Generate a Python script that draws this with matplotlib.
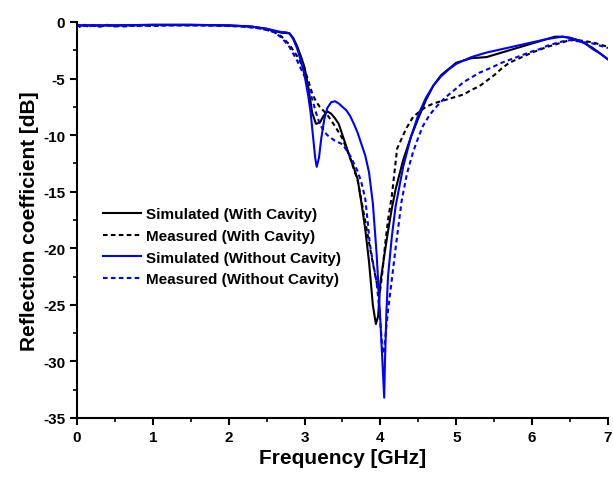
import matplotlib
matplotlib.use("Agg")
import matplotlib.pyplot as plt
from matplotlib.ticker import MultipleLocator

plt.rcParams['font.family'] = ['Liberation Sans', 'DejaVu Sans']
plt.rcParams['font.weight'] = 'bold'
plt.rcParams['axes.unicode_minus'] = False

# Simulated (With Cavity)
f_sim_cav = [0.0, 0.5, 1.0, 1.5, 2.0, 2.3, 2.5, 2.6, 2.7, 2.8, 2.85, 2.9, 2.95,
             3.0, 3.05, 3.1, 3.15, 3.2, 3.25, 3.3, 3.35, 3.4, 3.45, 3.5, 3.55,
             3.6, 3.65, 3.7, 3.75, 3.8, 3.85, 3.9, 3.94, 3.97, 4.0, 4.05, 4.1,
             4.15, 4.2, 4.3, 4.4, 4.5, 4.6, 4.7, 4.8, 5.0, 5.2, 5.4, 5.6, 5.8,
             6.0, 6.2, 6.3, 6.4, 6.5, 6.6, 6.7, 6.8, 6.9, 7.0]
s_sim_cav = [-0.3, -0.3, -0.25, -0.25, -0.3, -0.4, -0.6, -0.8, -0.95, -1.0, -1.4,
             -2.1, -3.0, -4.0, -5.8, -8.0, -9.0, -8.9, -8.3, -7.9, -8.1, -8.5,
             -9.0, -10.0, -11.0, -12.0, -12.9, -13.9, -16.0, -18.3, -21.2, -25.0,
             -26.7, -26.0, -23.0, -20.7, -18.5, -16.5, -14.8, -12.2, -10.2, -8.5,
             -6.9, -5.6, -4.7, -3.6, -3.2, -3.1, -2.7, -2.3, -1.9, -1.5, -1.3,
             -1.3, -1.4, -1.6, -1.9, -2.3, -2.8, -3.3]

# Measured (With Cavity)
f_meas_cav = [0.0, 0.05, 0.1, 0.15, 0.2, 0.3, 0.4, 0.6, 0.8, 1.0, 1.2, 1.5, 1.8,
              2.0, 2.2, 2.4, 2.5, 2.6, 2.7, 2.8, 2.9, 3.0, 3.05, 3.1, 3.15, 3.2,
              3.3, 3.4, 3.5, 3.6, 3.7, 3.75, 3.8, 3.85, 3.9, 3.95, 3.99, 4.02,
              4.06, 4.1, 4.15, 4.22, 4.3, 4.35, 4.43, 4.5, 4.6, 4.7, 4.8, 4.9,
              5.0, 5.1, 5.2, 5.3, 5.4, 5.5, 5.6, 5.7, 5.8, 6.0, 6.2, 6.4, 6.5,
              6.6, 6.7, 6.8, 6.9, 7.0]
s_meas_cav = [-0.2, -0.45, -0.3, -0.4, -0.3, -0.4, -0.3, -0.4, -0.3, -0.35, -0.3,
              -0.3, -0.3, -0.35, -0.4, -0.55, -0.7, -0.9, -1.3, -2.0, -3.0, -4.2,
              -5.2, -6.3, -7.0, -7.5, -8.2, -9.2, -10.3, -12.0, -14.0, -15.8,
              -17.6, -19.5, -21.3, -23.0, -24.0, -22.5, -19.8, -17.5, -15.4,
              -11.2, -10.0, -9.3, -8.4, -8.0, -7.5, -7.2, -7.0, -6.8, -6.6, -6.4,
              -6.0, -5.7, -5.2, -4.7, -4.1, -3.6, -3.3, -2.7, -2.2, -1.8, -1.6,
              -1.6, -1.7, -1.8, -2.0, -2.2]

# Simulated (Without Cavity)
f_sim_nocav = [0.0, 0.5, 1.0, 1.5, 2.0, 2.3, 2.5, 2.6, 2.7, 2.75, 2.8, 2.85, 2.9,
               2.95, 3.0, 3.05, 3.08, 3.11, 3.14, 3.16, 3.19, 3.22, 3.26, 3.3,
               3.35, 3.4, 3.45, 3.5, 3.55, 3.6, 3.65, 3.7, 3.75, 3.8, 3.85, 3.9,
               3.95, 4.0, 4.03, 4.05, 4.06, 4.08, 4.1, 4.15, 4.2, 4.3, 4.4, 4.5,
               4.6, 4.7, 4.8, 4.9, 5.0, 5.2, 5.4, 5.6, 5.8, 6.0, 6.2, 6.4, 6.5,
               6.6, 6.7, 6.8, 6.9, 7.0]
s_sim_nocav = [-0.3, -0.3, -0.25, -0.25, -0.3, -0.4, -0.6, -0.75, -0.9, -0.9,
               -1.0, -1.5, -2.3, -3.4, -4.7, -6.6, -8.0, -10.0, -12.0, -12.8,
               -12.0, -10.3, -8.6, -7.6, -7.1, -7.0, -7.2, -7.5, -7.8, -8.3, -9.0,
               -9.8, -10.8, -11.8, -13.3, -16.0, -20.5, -26.5, -30.5, -33.2,
               -30.0, -25.5, -22.5, -19.0, -16.3, -12.8, -10.2, -8.2, -6.7, -5.6,
               -4.8, -4.2, -3.7, -3.1, -2.7, -2.4, -2.1, -1.8, -1.5, -1.3, -1.4,
               -1.6, -1.9, -2.4, -2.8, -3.3]

# Measured (Without Cavity)
f_meas_nocav = [0.0, 0.05, 0.1, 0.15, 0.2, 0.3, 0.4, 0.5, 0.6, 0.8, 1.0, 1.3,
                1.6, 2.0, 2.2, 2.4, 2.5, 2.6, 2.7, 2.8, 2.9, 3.0, 3.05, 3.1, 3.15,
                3.2, 3.25, 3.3, 3.4, 3.5, 3.6, 3.7, 3.75, 3.8, 3.83, 3.86, 3.9,
                3.95, 3.98, 4.01, 4.03, 4.05, 4.07, 4.1, 4.15, 4.2, 4.28, 4.35,
                4.43, 4.5, 4.56, 4.65, 4.75, 4.85, 4.96, 5.1, 5.2, 5.3, 5.44, 5.6,
                5.8, 6.0, 6.1, 6.2, 6.3, 6.41, 6.5, 6.6, 6.7, 6.8, 6.9, 7.0]
s_meas_nocav = [-0.2, -0.5, -0.25, -0.45, -0.3, -0.4, -0.25, -0.4, -0.3, -0.35,
                -0.3, -0.3, -0.3, -0.35, -0.4, -0.55, -0.7, -0.9, -1.4, -2.2,
                -3.4, -4.8, -5.8, -6.8, -8.0, -9.0, -9.6, -10.0, -10.5, -10.8,
                -11.8, -13.2, -14.2, -15.6, -17.5, -19.6, -21.2, -23.0, -25.0,
                -27.5, -29.3, -29.0, -27.5, -25.5, -22.8, -20.0, -15.8, -13.4,
                -11.5, -10.2, -9.2, -8.2, -7.4, -6.7, -6.1, -5.3, -4.9, -4.5,
                -4.1, -3.6, -3.1, -2.6, -2.4, -2.1, -1.9, -1.7, -1.6, -1.7, -1.8,
                -1.9, -2.1, -2.3]

fig = plt.figure(figsize=(6.13, 4.81), dpi=100)
ax = fig.add_axes([0.1256, 0.1289, 0.8662, 0.8233])

dash = (0, (2.2, 1.6))
ax.plot(f_sim_cav, s_sim_cav, color='black', lw=1.5, label='Simulated (With Cavity)')
ax.plot(f_meas_cav, s_meas_cav, color='black', lw=1.5, linestyle=dash,
        label='Measured (With Cavity)')
ax.plot(f_sim_nocav, s_sim_nocav, color='#0000ff', lw=1.5,
        label='Simulated (Without Cavity)')
ax.plot(f_meas_nocav, s_meas_nocav, color='#0000ff', lw=1.5, linestyle=dash,
        label='Measured (Without Cavity)')

ax.set_xlim(0, 7)
ax.set_ylim(-35, 0)
ax.xaxis.set_major_locator(MultipleLocator(1))
ax.xaxis.set_minor_locator(MultipleLocator(0.5))
ax.yaxis.set_major_locator(MultipleLocator(5))
ax.yaxis.set_minor_locator(MultipleLocator(2.5))

for side in ['top', 'right']:
    ax.spines[side].set_visible(False)
for side in ['left', 'bottom']:
    ax.spines[side].set_linewidth(1.5)

ax.tick_params(which='major', direction='out', length=5, width=1.5, labelsize=11)
ax.tick_params(which='minor', direction='out', length=3, width=1.2)
for lab in ax.get_xticklabels() + ax.get_yticklabels():
    lab.set_fontweight('bold')

ax.set_xlabel('Frequency [GHz]', fontsize=15, fontweight='bold', labelpad=3)
ax.set_ylabel('Reflection coefficient [dB]', fontsize=15, fontweight='bold', labelpad=3)

ax.legend(loc='center left', bbox_to_anchor=(0.049, 0.432), frameon=False,
          fontsize=11, handlelength=2.5, handletextpad=0.3, labelspacing=0.5,
          borderpad=0, borderaxespad=0)

fig.savefig('out.png', dpi=100)
